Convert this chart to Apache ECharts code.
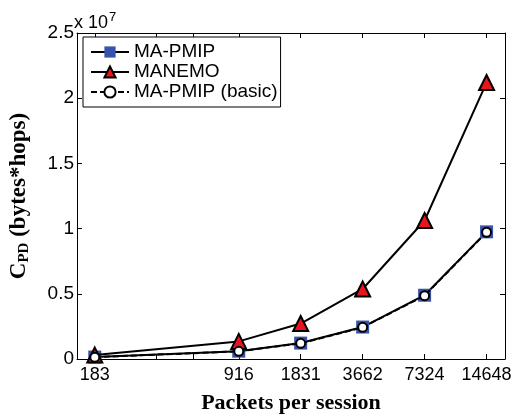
<!DOCTYPE html>
<html><head><meta charset="utf-8">
<script src="https://cdn.jsdelivr.net/npm/echarts@6/dist/echarts.min.js"></script>
<style>html,body{margin:0;padding:0;background:#fff}#c{width:519px;height:419px}</style>
</head><body><div id="c"></div>
<script>
const packets = [183, 916, 1831, 3662, 7324, 14648];
const xTickValues = [183, 366, 549, 916, 1831, 3662, 7324, 14648];
const xLabelValues = [183, 916, 1831, 3662, 7324, 14648];
const maPmip = [0.015e7, 0.06e7, 0.122e7, 0.245e7, 0.489e7, 0.975e7];
const manemo = [0.03e7, 0.135e7, 0.272e7, 0.537e7, 1.062e7, 2.12e7];
const maPmipBasic = [0.014e7, 0.059e7, 0.12e7, 0.243e7, 0.486e7, 0.972e7];
const yTicks = [0, 0.5, 1, 1.5, 2, 2.5];

const pairs = a => packets.map((p, i) => [p, a[i]]);
const chart = echarts.init(document.getElementById('c'), null, {renderer: 'canvas'});
const sans = 'Liberation Sans, Arial, sans-serif';
const serif = 'Liberation Serif, Times New Roman, serif';
const tickStyle = {show: true, inside: true, length: 5, lineStyle: {color: '#000', width: 1}};
const xLabelText = v => {
  const r = Math.round(v);
  return xLabelValues.indexOf(r) >= 0 ? String(r) : '{h|0}';
};
const xBase = {
  type: 'log', logBase: 10, min: 150, max: 18000,
  axisLine: {show: true, onZero: false, lineStyle: {color: '#000', width: 1}},
  axisTick: Object.assign({customValues: xTickValues}, tickStyle),
  minorTick: {show: false}, splitLine: {show: false}
};
chart.setOption({
  animation: false,
  title: {text: 'x 10{s|7}', left: 74, top: 11, padding: 0,
    textStyle: {fontFamily: sans, fontSize: 18, fontWeight: 'normal', color: '#000',
      rich: {s: {fontFamily: sans, fontSize: 13, padding: [0, 0, 11, 1], color: '#000'}}}},
  grid: {left: 76, right: 14, top: 33, bottom: 52},
  legend: {
    left: 83, top: 37, orient: 'vertical', itemWidth: 38, itemHeight: 14, itemGap: 0,
    padding: [5, 3, 5, 7], borderColor: '#000', borderWidth: 1, backgroundColor: '#fff',
    textStyle: {fontFamily: sans, fontSize: 19, lineHeight: 20, color: '#000'},
    data: ['MA-PMIP', 'MANEMO', 'MA-PMIP (basic)']
  },
  xAxis: [
    Object.assign({}, xBase, {position: 'bottom',
      name: 'Packets per session', nameLocation: 'middle', nameGap: 33,
      nameTextStyle: {fontFamily: serif, fontSize: 22, fontWeight: 'bold', color: '#000'},
      axisLabel: {show: true, customValues: xTickValues, hideOverlap: false, interval: 0, fontFamily: sans, fontSize: 18, color: '#000', margin: 7,
        formatter: xLabelText, rich: {h: {fontSize: 4, color: 'rgba(255,255,255,0)'}}}}),
    Object.assign({}, xBase, {position: 'top',
      axisLabel: {show: true, customValues: xTickValues, interval: 0, hideOverlap: false, fontSize: 4,
        color: 'rgba(255,255,255,0)', formatter: () => '{h|0}', rich: {h: {fontSize: 4, color: 'rgba(255,255,255,0)'}}}})
  ],
  yAxis: [
    {type: 'value', min: 0, max: 2.5e7, interval: 0.5e7, position: 'left',
      axisLine: {show: true, lineStyle: {color: '#000'}},
      axisTick: tickStyle,
      splitLine: {show: false},
      axisLabel: {fontFamily: sans, fontSize: 19, color: '#000', margin: 3,
        formatter: v => String(yTicks[Math.round(v / 0.5e7)])},
      name: '{c|C}{sub|PD}{c| (bytes*hops)}', nameLocation: 'middle', nameGap: 45, nameRotate: 90,
      nameTextStyle: {rich: {
        c: {fontFamily: serif, fontSize: 23, fontWeight: 'bold', color: '#000'},
        sub: {fontFamily: serif, fontSize: 15, fontWeight: 'bold', color: '#000', padding: [10, 0, 0, 0]}}}},
    {type: 'value', min: 0, max: 2.5e7, interval: 0.5e7, position: 'right',
      axisLine: {show: true, lineStyle: {color: '#000'}},
      axisTick: tickStyle,
      splitLine: {show: false}, axisLabel: {show: false}}
  ],
  series: [
    {name: 'MA-PMIP', type: 'line', data: pairs(maPmip), symbol: 'rect', symbolSize: 13,
      lineStyle: {color: '#000', width: 2}, itemStyle: {color: '#3653ad', borderColor: '#3653ad', borderWidth: 0}, z: 2},
    {name: 'MANEMO', type: 'line', data: pairs(manemo), symbol: 'triangle', symbolSize: 15,
      lineStyle: {color: '#000', width: 2}, itemStyle: {color: '#e8141e', borderColor: '#000', borderWidth: 2}, z: 3},
    {name: 'MA-PMIP (basic)', type: 'line', data: pairs(maPmipBasic), symbol: 'circle', symbolSize: 9,
      lineStyle: {color: '#000', width: 2, type: [6, 3]}, itemStyle: {color: '#fff', borderColor: '#000', borderWidth: 2}, z: 4}
  ]
});
</script></body></html>
